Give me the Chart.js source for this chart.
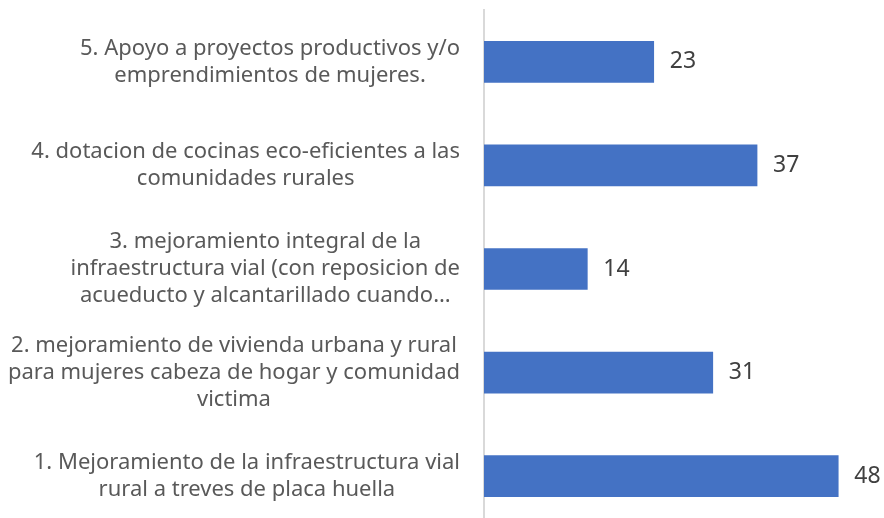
<!DOCTYPE html>
<html>
<head>
<meta charset="utf-8">
<script src="https://cdn.jsdelivr.net/npm/chart.js@4.4.1/dist/chart.umd.min.js"></script>
<style>
    html, body { margin: 0; padding: 0; background: #fff; overflow: hidden; }
    #wrap { width: 884px; height: 528px; position: relative; }
</style>
</head>
<body>
<div id="wrap"><canvas id="chartBar"></canvas></div>
<script>
// categorias de arriba hacia abajo
var categorias = [
    ['5. Apoyo a proyectos productivos y/o', 'emprendimientos de mujeres.'],
    ['4. dotacion de cocinas eco-eficientes a las', 'comunidades rurales'],
    ['3. mejoramiento integral de la', 'infraestructura vial (con reposicion de', 'acueducto y alcantarillado cuando\u2026'],
    ['2. mejoramiento de vivienda urbana y rural', 'para mujeres cabeza de hogar y comunidad', 'victima'],
    ['1. Mejoramiento de la infraestructura vial', 'rural a treves de placa huella']
];
var valores = [23, 37, 14, 31, 48];
var ejeMax = 50;

var fuente = '"Noto Sans", "Open Sans", sans-serif';

// dibuja los nombres (centrados por linea) y los valores al final de cada barra
var etiquetas = {
    id: 'etiquetas',
    afterDatasetsDraw: function (chart) {
        var ctx = chart.ctx;
        var yScale = chart.scales.y;
        var meta = chart.getDatasetMeta(0);
        ctx.save();
        ctx.textBaseline = 'middle';

        ctx.font = '22px ' + fuente;
        ctx.fillStyle = '#595959';
        ctx.textAlign = 'center';
        categorias.forEach(function (lineas, i) {
            var yc = yScale.getPixelForValue(i);
            var ancho = Math.max.apply(null, lineas.map(function (l) { return ctx.measureText(l).width; }));
            var centro = chart.chartArea.left - 24 - ancho / 2;
            var alto = 27;
            var y0 = yc - (lineas.length - 1) * alto / 2;
            lineas.forEach(function (l, j) {
                ctx.fillText(l, centro, y0 + j * alto);
            });
        });

        ctx.font = '23px ' + fuente;
        ctx.fillStyle = '#404040';
        ctx.textAlign = 'left';
        meta.data.forEach(function (bar, i) {
            ctx.fillText(String(valores[i]), bar.x + 16, bar.y);
        });
        ctx.restore();
    }
};

var ctx = document.getElementById('chartBar');
var chart = new Chart(ctx, {
    type: 'bar',
    data: {
        labels: categorias,
        datasets: [{
            data: valores,
            backgroundColor: '#4472C4',
            barThickness: 41
        }]
    },
    options: {
        indexAxis: 'y',
        responsive: true,
        maintainAspectRatio: false,
        animation: false,
        layout: {
            padding: { top: 10, right: 31, bottom: 0, left: 0 }
        },
        plugins: {
            legend: { display: false },
            tooltip: { enabled: false }
        },
        scales: {
            x: {
                display: false,
                min: 0,
                max: ejeMax
            },
            y: {
                grid: { display: false },
                border: { color: '#d9d9d9', width: 2 },
                ticks: { display: false },
                afterFit: function (scale) {
                    scale.width = 484;
                }
            }
        }
    },
    plugins: [etiquetas]
});
</script>
</body>
</html>
